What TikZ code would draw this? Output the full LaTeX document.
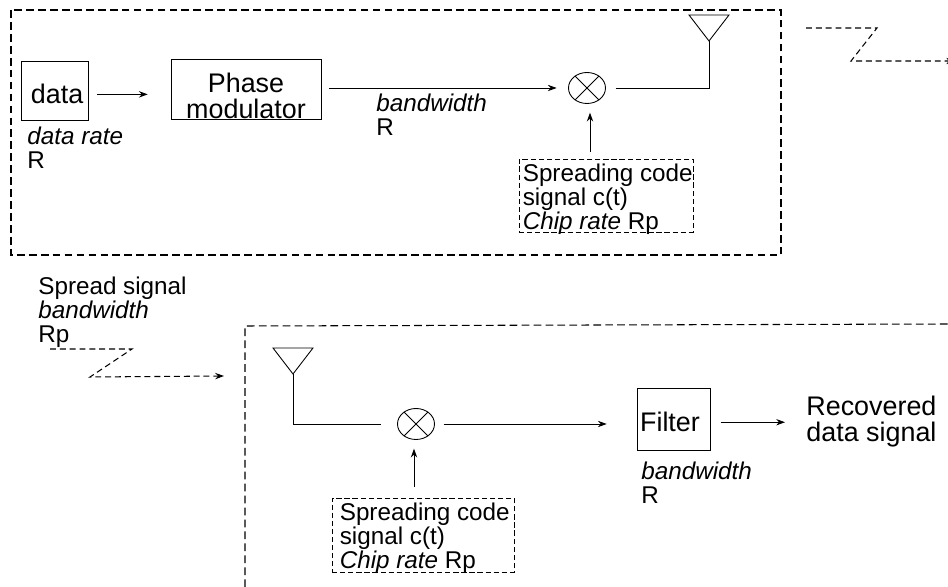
\documentclass[tikz,border=0pt]{standalone}
\usepackage{fontspec}
\setmainfont{Liberation Sans}
\usetikzlibrary{shapes.geometric,arrows.meta,positioning,calc}
\newcommand{\codetext}{\rule{0pt}{14pt}\hspace*{2pt}Spreading code\\\hspace*{2pt}signal c(t)\\\hspace*{2pt}\textit{Chip rate} Rp}

\begin{document}
\begin{tikzpicture}[
  x=0.02cm, y=-0.02cm,
  >={Stealth[length=5pt,width=3.6pt]},
  block/.style={rectangle, draw=black, line width=0.5pt, inner sep=0pt, align=center,
                font=\fontsize{15.3}{14.7}\selectfont},
  codebox/.style={rectangle, draw=black, line width=0.45pt, dash pattern=on 3pt off 1.6pt,
                  minimum width=3.48cm, minimum height=1.46cm, inner xsep=0pt, inner ysep=-3pt,
                  align=left, font=\fontsize{13.8}{13.6}\selectfont},
  mixer/.style={ellipse, draw=black, line width=0.5pt, inner sep=0pt,
                minimum width=0.74cm, minimum height=0.62cm},
  caption/.style={anchor=north west, inner sep=0pt, align=left,
                  font=\fontsize{13.8}{13.6}\selectfont},
  frame/.style={draw=black, line width=0.6pt, dash pattern=on 4.4pt off 2.4pt},
  radio/.style={draw=black, line width=0.6pt, dash pattern=on 3.4pt off 2.2pt},
  sigline/.style={draw=black, line width=0.5pt}
]
  \useasboundingbox (0,0) rectangle (948,587);

  % Dashed frames
  \draw[frame] (11,10) rectangle (781,255);
  \draw[frame] (245,587) -- (245,326) -- (948,324);

  % Blocks
  \node[block, minimum width=1.34cm, minimum height=1.18cm, text height=14.5pt] (data) at (54.5,90.5) {\hspace{3pt}data};
  \node[block, minimum width=3cm, minimum height=1.2cm, inner ysep=-3pt] (phase) at (246,89) {\rule{0pt}{19pt}Phase\\modulator};
  \node[block, minimum width=1.46cm, minimum height=1.24cm, text height=14pt] (filter) at (673.5,419) {Filter\hspace{4pt}};
  \node[codebox] (txcode) at (606,195.5) {\codetext};
  \node[codebox, minimum width=3.64cm, minimum height=1.48cm] (rxcode) at (423,535) {\codetext};

  % Mixers and antennas
  \foreach \nm/\xpos/\ypos in {txmix/587/88, rxmix/416/424} {
    \node[mixer] (\nm) at (\xpos,\ypos) {};
    \draw[sigline] (\nm.45) -- (\nm.225) (\nm.135) -- (\nm.315);
  }
  \foreach \nm/\xpos/\ypos in {txant/709/41, rxant/293/374} {
    \coordinate (\nm) at (\xpos,\ypos);
    \draw[sigline] (\nm) -- ++(-20,-26) -- ++(40,0) -- cycle;
  }

  % Labels
  \node[caption] (datarate) at (27,126.5) {\textit{data rate}\\R};
  \node[caption] (phaserate) at (376,93.5) {\textit{bandwidth}\\R};
  \node[caption] (spread) at (38,276.5) {Spread signal\\\textit{bandwidth}\\Rp};
  \node[caption] (filterrate) at (641,461.5) {\textit{bandwidth}\\R};
  \node[block, draw=none, anchor=north west, align=left] (recovered) at (806,396) {Recovered\\data signal};

  % Signal path, sender
  \draw[sigline, ->, shorten <=5pt, shorten >=13pt] ([yshift=-2.2pt]data.east) -- ([yshift=-2.2pt]data.east -| phase.west);
  \draw[sigline, ->, shorten <=4.5pt, shorten >=6.5pt] (phase.east |- txmix) -- (txmix.west);
  \draw[sigline, shorten <=5.5pt] (txmix.east) -| (txant);
  \draw[sigline, ->, shorten <=4pt, shorten >=5pt] (txcode.north -| 590,0) -- (590,0 |- txmix.south);

  % Signal path, receiver
  \draw[sigline, shorten >=9pt] (rxant) |- (rxmix.west);
  \draw[sigline, ->, shorten <=5pt, shorten >=17pt] (rxmix.east) -- (rxmix.east -| filter.west);
  \draw[sigline, ->, shorten <=6pt] ([yshift=1pt]filter.east |- rxmix) -- ([yshift=1pt]785,0 |- rxmix);
  \draw[sigline, ->, shorten <=6pt, shorten >=5pt] (rxcode.north -| 414,0) -- (414,0 |- rxmix.south);

  % Radio links
  \coordinate (linkstart) at (806,28);
  \coordinate (linkend) at (955,61);
  \draw[radio, ->] (linkstart) -- (877,28) -- (851,61) -- (linkend);
  \coordinate (spreadstart) at (50,349);
  \coordinate (spreadend) at (224,376);
  \draw[radio, ->] (spreadstart) -- (132,349) -- (90,377) -- (spreadend);
\end{tikzpicture}
\end{document}
